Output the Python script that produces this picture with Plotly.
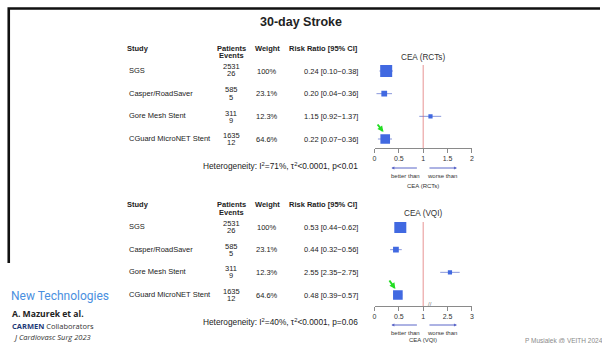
import plotly.graph_objects as go

W, H = 602, 343

# ---------------- data ----------------
studies = ["SGS", "Casper/RoadSaver", "Gore Mesh Stent", "CGuard MicroNET Stent"]
patients = [2531, 585, 311, 1635]
events = [26, 5, 9, 12]
weights = [100, 23.1, 12.3, 64.6]

rct_rr = [0.24, 0.20, 1.15, 0.22]
rct_lo = [0.10, 0.04, 0.92, 0.07]
rct_hi = [0.38, 0.36, 1.37, 0.36]

vqi_rr = [0.53, 0.44, 2.55, 0.48]
vqi_lo = [0.44, 0.32, 2.35, 0.39]
vqi_hi = [0.62, 0.56, 2.75, 0.57]

rct_ticks = [0, 0.5, 1, 1.5, 2]
vqi_ticks = [0, 0.5, 1, 2.5, 3]

het_rct = "Heterogeneity: I<sup>2</sup>=71%, τ<sup>2</sup><0.0001, p<0.01"
het_vqi = "Heterogeneity: I<sup>2</sup>=40%, τ<sup>2</sup><0.0001, p=0.06"


def px(x):
    return x / W


def py(y):
    return 1 - y / H


def brk(v):
    # broken axis: values above 1 are shifted so that 2 sits at 1
    return v if v <= 1 else v - 1


FONT = "Liberation Sans, Arial, sans-serif"
TXT = "#222"
fig = go.Figure()

sizes = [1.2 * w ** 0.5 for w in weights]


def forest(rr, lo, hi, xa, ya, f=lambda v: v):
    cx, cy = [], []
    for i, (l, h) in enumerate(zip(lo, hi)):
        cx += [f(l), f(h), None]
        cy += [i, i, None]
    fig.add_trace(go.Scatter(x=cx, y=cy, mode="lines", line=dict(color="#8a98dc", width=1),
                             xaxis=xa, yaxis=ya, showlegend=False, hoverinfo="skip"))
    fig.add_trace(go.Scatter(x=[f(v) for v in rr], y=list(range(len(rr))), mode="markers",
                             marker=dict(symbol="square", size=sizes, color="#4169E1",
                                         opacity=1, line=dict(width=0)),
                             xaxis=xa, yaxis=ya, showlegend=False, hoverinfo="skip"))


forest(rct_rr, rct_lo, rct_hi, "x", "y")
forest(vqi_rr, vqi_lo, vqi_hi, "x2", "y2", brk)

# decorative slide frame (top bar + left bar) on a full-page overlay axis
fig.add_trace(go.Scatter(x=[602, 6.8, 6.8], y=[8.5, 8.5, 263], mode="lines",
                         line=dict(color="#111", width=2.6), xaxis="x3", yaxis="y3",
                         showlegend=False, hoverinfo="skip", cliponaxis=False))

axis_common = dict(showgrid=False, zeroline=False, showline=True, linecolor="#8a8a8a",
                   linewidth=1, ticks="outside", ticklen=4, tickcolor="#8a8a8a",
                   tickfont=dict(size=7, color="#333", family=FONT), fixedrange=True)
sp = 22.67
fig.update_layout(
    width=W, height=H, margin=dict(l=0, r=0, t=0, b=0),
    paper_bgcolor="white", plot_bgcolor="rgba(0,0,0,0)",
    xaxis=dict(domain=[px(375), px(473)], range=[0, 2], anchor="y",
               tickvals=rct_ticks, ticktext=[str(t) for t in rct_ticks], **axis_common),
    yaxis=dict(domain=[py(148), py(65)], range=[3 + 9 / sp, -6 / sp], visible=False, fixedrange=True),
    xaxis2=dict(domain=[px(375), px(473)], range=[0, 2], anchor="y2",
                tickvals=[brk(t) for t in vqi_ticks], ticktext=[str(t) for t in vqi_ticks],
                **axis_common),
    yaxis2=dict(domain=[py(306), py(222)], range=[3 + 11 / sp, -5 / sp], visible=False, fixedrange=True),
    xaxis3=dict(domain=[0, 1], range=[0, W], visible=False, fixedrange=True, anchor="y3"),
    yaxis3=dict(domain=[0, 1], range=[H, 0], visible=False, fixedrange=True, anchor="x3"),
)

shapes = []
# red reference lines
for xa, ya in (("x", "y"), ("x2", "y2")):
    shapes.append(dict(type="line", xref=xa, yref=ya + " domain", x0=1, x1=1, y0=0, y1=1,
                       line=dict(color="rgba(220,90,90,0.65)", width=1)))
fig.update_layout(shapes=shapes)

ann = []


def T(x, y, text, size=8, color=TXT, anchor="left", bold=False, family=FONT, italic=False):
    if bold:
        text = "<b>" + text + "</b>"
    if italic:
        text = "<i>" + text + "</i>"
    shift = {"left": -2, "right": 2, "center": 0}[anchor]
    ann.append(dict(x=px(x), y=py(y), xref="paper", yref="paper", text=text, showarrow=False,
                    xanchor=anchor, yanchor="middle", xshift=shift,
                    font=dict(size=size, color=color, family=family)))


def A(x0, y0, x1, y1, color, width, size):
    ann.append(dict(x=px(x1), y=py(y1), ax=x0 - x1, ay=y0 - y1, xref="paper", yref="paper",
                    axref="pixel", ayref="pixel", showarrow=True, arrowhead=2, arrowsize=size,
                    arrowwidth=width, arrowcolor=color, text=""))


T(301, 22, "30-day Stroke", size=12.5, bold=True, anchor="center")


def panel(y_head, row_ys, rr, lo, hi, het, y_het, title, y_title, y_arrow, y_lab):
    T(126, y_head, "Study", bold=True, size=7.5)
    T(231, y_head, "Patients", bold=True, size=7.5, anchor="center")
    T(231, y_head + 8, "Events", bold=True, size=7.5, anchor="center")
    T(267, y_head, "Weight", bold=True, size=7.5, anchor="center")
    T(324, y_head, "Risk Ratio [95% CI]", bold=True, size=7.5, anchor="center")
    for i, yy in enumerate(row_ys):
        T(128, yy, studies[i], size=7.5)
        T(231, yy - 3, str(patients[i]), size=7.5, anchor="center")
        T(231, yy + 4, str(events[i]), size=7.5, anchor="center")
        T(267, yy + 1, f"{weights[i]:g}%", size=7.5, anchor="center")
        T(358, yy + 1, f"{rr[i]:.2f} [{lo[i]:.2f}\u2212{hi[i]:.2f}]", size=7.5, anchor="right")
    T(358, y_het, het, size=8.3, anchor="right")
    T(424, y_title, title, size=8.2, anchor="center", color="#333")
    T(406, y_arrow + 8, "better than", size=6, anchor="center", color="#333")
    T(443, y_arrow + 8, "worse than", size=6, anchor="center", color="#333")
    T(424, y_lab, title, size=6, anchor="center", color="#333")
    A(419, y_arrow, 392, y_arrow, "#5a66c8", 1, 0.6)
    A(429, y_arrow, 458, y_arrow, "#5a66c8", 1, 0.6)


panel(48, [70, 93, 116, 138], rct_rr, rct_lo, rct_hi, het_rct, 166, "CEA (RCTs)", 58, 168, 186)
panel(204, [226, 249, 271, 294], vqi_rr, vqi_lo, vqi_hi, het_vqi, 322, "CEA (VQI)", 213, 325, 340)

# axis break mark
T(431, 304, "//", size=6, anchor="center", color="#777")

# green arrows
A(377, 123, 384, 132, "#22dd22", 2, 0.6)
A(389, 279, 396, 289, "#22dd22", 2, 0.6)

# left block
T(9, 296, "New Technologies", size=12, color="#4a8fe0", family="Roboto, Arial, sans-serif")
T(10, 314, "A. Mazurek et al.", size=8.6, bold=True, color="#222", family="Open Sans, Arial, sans-serif")
ann.append(dict(x=px(10), y=py(326), xref="paper", yref="paper", showarrow=False, xanchor="left",
                yanchor="middle", xshift=-2,
                text="<b><span style='color:#1f3a78'>CARMEN</span></b> Collaborators",
                font=dict(size=7.5, color="#333", family="Open Sans, Arial, sans-serif")))
T(11, 337, "J Cardiovasc Surg 2023", size=7.5, italic=True, color="#333", family="Open Sans, Arial, sans-serif")
T(526, 340, "P Musialek @ VEITH 2024", size=6.5, color="#8a8a8a")

fig.update_layout(annotations=ann)
fig.write_html("out.html", config={"displayModeBar": False},
               post_script="document.body.style.margin='0px';document.body.style.overflow='hidden';")
